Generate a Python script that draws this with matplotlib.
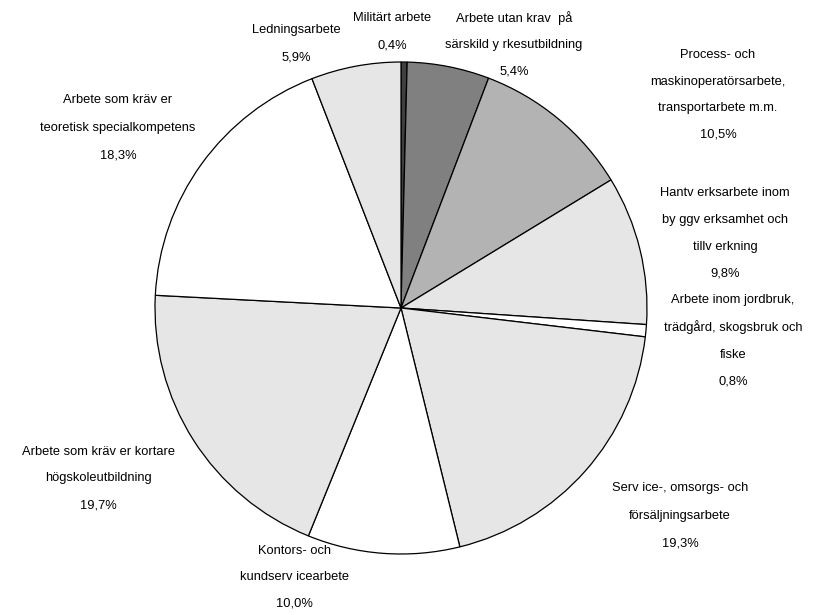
import matplotlib
matplotlib.use("Agg")
import matplotlib.pyplot as plt

categories = [
    "Militärt arbete",
    "Arbete utan krav  på\nsärskild y rkesutbildning",
    "Process- och\nmaskinoperatörsarbete,\ntransportarbete m.m.",
    "Hantv erksarbete inom\nby ggv erksamhet och\ntillv erkning",
    "Arbete inom jordbruk,\nträdgård, skogsbruk och\nfiske",
    "Serv ice-, omsorgs- och\nförsäljningsarbete",
    "Kontors- och\nkundserv icearbete",
    "Arbete som kräv er kortare\nhögskoleutbildning",
    "Arbete som kräv er\nteoretisk specialkompetens",
    "Ledningsarbete",
]
values = [0.4, 5.4, 10.5, 9.8, 0.8, 19.3, 10.0, 19.7, 18.3, 5.9]
value_labels = ["0,4%", "5,4%", "10,5%", "9,8%", "0,8%", "19,3%", "10,0%", "19,7%", "18,3%", "5,9%"]
colors = ["#3f3f3f", "#808080", "#b3b3b3", "#e6e6e6", "#ffffff",
          "#e6e6e6", "#ffffff", "#e6e6e6", "#ffffff", "#e6e6e6"]

# label positions (pixel coords: centre x, centre y of first line, line step)
label_pos = [(392, 18, 27), (514, 18, 27), (718, 55, 26.5), (725, 193, 27), (733, 300, 27.3),
             (680, 488, 27.5), (294, 551, 26.5), (98, 452, 26.5), (118, 100, 27.5), (296, 30, 28)]

W, H = 822, 615
fig = plt.figure(figsize=(W / 100, H / 100), dpi=100)
ax = fig.add_axes([0, 0, 1, 1])

cx, cy, r = 401, 308, 246
ax.pie(values, colors=colors, startangle=90, counterclock=False,
       center=(cx, H - cy), radius=r, frame=True,
       wedgeprops=dict(edgecolor="black", linewidth=0.9))
ax.set_xlim(0, W)
ax.set_ylim(0, H)
ax.set_aspect("equal")
ax.axis("off")

fam = ["Liberation Sans Narrow", "Liberation Sans", "DejaVu Sans"]
for cat, vl, (x, y, step) in zip(categories, value_labels, label_pos):
    lines = cat.split("\n") + [vl]
    for i, line in enumerate(lines):
        ax.text(x, H - (y + i * step), line, ha="center", va="center",
                fontsize=9.3, family=fam, color="black")

fig.savefig("out.png", dpi=100)
